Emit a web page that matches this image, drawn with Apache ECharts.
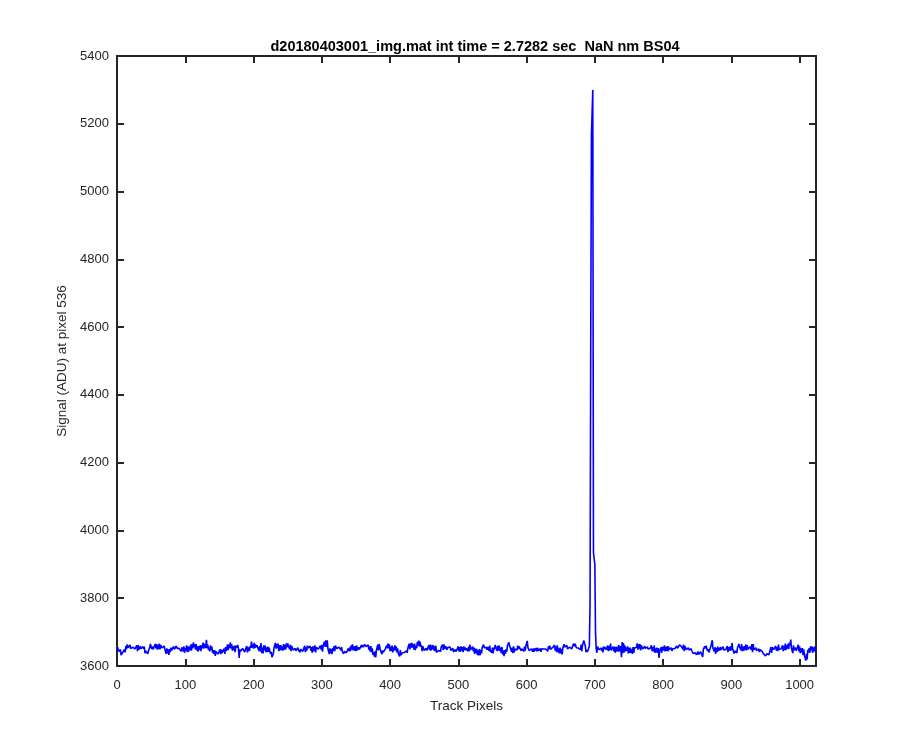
<!DOCTYPE html>
<html>
<head>
<meta charset="utf-8">
<script src="https://cdn.jsdelivr.net/npm/echarts@6/dist/echarts.min.js"></script>
<style>
html,body{margin:0;padding:0;background:#fff;}
#chart{width:900px;height:750px;}
</style>
</head>
<body>
<div id="chart"></div>
<script>
var titleText = 'd20180403001_img.mat int time = 2.7282 sec  NaN nm BS04';
var xLabel = 'Track Pixels';
var yLabel = 'Signal (ADU) at pixel 536';
var xTicks = [0, 100, 200, 300, 400, 500, 600, 700, 800, 900, 1000];
var yTicks = [3600, 3800, 4000, 4200, 4400, 4600, 4800, 5000, 5200, 5400];

// signal at track pixels 1..1024
var signal = [
3656,3643,3649,3642,3649,3632,3634,3632,3642,3637,3649,3640,3659,3650,3664,3654,3659,3656,3662,3651,3654,3651,3656,3654,3660,3650,3655,3649,3661,3644,3662,3648,
3651,3658,3651,3655,3652,3657,3651,3657,3638,3644,3643,3646,3636,3644,3639,3655,3665,3656,3650,3658,3649,3651,3650,3665,3652,3665,3648,3662,3650,3666,3649,3662,
3659,3653,3657,3649,3659,3651,3648,3636,3652,3637,3649,3633,3650,3641,3654,3646,3650,3649,3658,3649,3654,3654,3659,3652,3657,3648,3652,3647,3649,3643,3655,3651,
3643,3658,3639,3653,3646,3661,3641,3658,3642,3657,3647,3663,3645,3665,3652,3670,3656,3665,3648,3665,3646,3658,3642,3659,3648,3661,3644,3662,3652,3669,3651,3665,
3670,3653,3677,3653,3663,3647,3655,3643,3661,3647,3657,3639,3647,3636,3647,3630,3643,3639,3645,3635,3637,3635,3649,3635,3648,3639,3643,3638,3651,3636,3656,3644,
3648,3664,3647,3663,3653,3670,3652,3665,3645,3658,3647,3660,3641,3660,3654,3658,3662,3649,3624,3649,3643,3647,3643,3652,3649,3650,3641,3647,3645,3659,3640,3655,
3659,3644,3659,3653,3672,3654,3664,3651,3668,3653,3664,3655,3661,3659,3661,3644,3659,3643,3668,3638,3654,3637,3661,3646,3660,3641,3655,3641,3657,3642,3654,3642,
3636,3642,3626,3630,3636,3653,3651,3668,3651,3665,3653,3666,3644,3662,3646,3662,3647,3658,3645,3665,3648,3662,3648,3667,3655,3667,3659,3662,3650,3663,3644,3659,
3654,3647,3649,3643,3652,3645,3647,3645,3654,3647,3649,3640,3650,3649,3653,3643,3648,3645,3660,3641,3655,3645,3660,3653,3658,3656,3659,3645,3656,3639,3658,3643,
3645,3661,3640,3655,3655,3658,3650,3655,3646,3660,3648,3662,3642,3659,3656,3672,3656,3676,3656,3676,3651,3651,3635,3652,3638,3650,3635,3653,3644,3659,3644,3660,
3657,3651,3653,3647,3656,3651,3653,3647,3656,3643,3647,3636,3643,3641,3646,3639,3644,3642,3652,3643,3655,3644,3661,3648,3664,3646,3658,3645,3659,3644,3661,3647,
3649,3655,3649,3654,3656,3662,3655,3662,3656,3660,3664,3666,3657,3662,3658,3662,3648,3658,3642,3659,3640,3652,3633,3640,3628,3643,3625,3646,3645,3663,3646,3665,
3661,3646,3649,3635,3646,3640,3642,3640,3650,3646,3660,3652,3666,3652,3664,3644,3657,3644,3660,3640,3655,3646,3661,3646,3658,3640,3652,3638,3643,3628,3647,3632,
3634,3639,3634,3638,3640,3645,3639,3645,3639,3652,3652,3666,3649,3667,3654,3668,3654,3664,3648,3666,3647,3659,3653,3671,3660,3675,3658,3672,3656,3662,3644,3658,
3653,3646,3648,3642,3652,3646,3648,3646,3662,3647,3663,3645,3661,3649,3662,3646,3658,3644,3660,3640,3644,3641,3646,3643,3650,3643,3657,3652,3663,3647,3664,3651,
3652,3658,3648,3652,3655,3660,3650,3656,3646,3650,3648,3652,3641,3649,3643,3649,3643,3645,3640,3658,3643,3656,3642,3658,3645,3656,3641,3658,3647,3655,3646,3652,
3657,3644,3657,3643,3663,3648,3650,3647,3657,3643,3654,3636,3651,3639,3651,3632,3646,3631,3650,3632,3647,3637,3654,3649,3663,3654,3659,3653,3655,3648,3656,3652,
3645,3660,3641,3647,3639,3654,3637,3654,3648,3662,3664,3664,3644,3660,3645,3660,3644,3654,3638,3656,3634,3646,3629,3647,3636,3650,3642,3660,3657,3670,3661,3664,
3659,3642,3654,3638,3658,3640,3650,3646,3653,3647,3660,3650,3658,3660,3663,3645,3651,3647,3654,3643,3657,3645,3659,3654,3674,3654,3658,3645,3649,3643,3651,3647,
3642,3652,3642,3652,3646,3653,3643,3654,3644,3651,3645,3652,3642,3651,3648,3651,3650,3650,3647,3650,3646,3654,3644,3658,3650,3660,3649,3651,3653,3654,3655,3655,
3662,3645,3657,3641,3661,3641,3652,3637,3654,3637,3650,3634,3652,3651,3664,3656,3659,3655,3661,3650,3653,3651,3656,3651,3656,3650,3656,3653,3666,3658,3666,3668,
3654,3659,3650,3653,3652,3656,3648,3663,3644,3662,3661,3675,3666,3660,3641,3647,3641,3642,3639,3658,3785,4555,5165,5170,5300,3935,3940,3900,3700,3650,3639,3657,
3654,3648,3650,3644,3653,3645,3654,3640,3657,3652,3656,3649,3657,3647,3661,3644,3659,3647,3666,3646,3651,3651,3657,3643,3657,3639,3656,3643,3657,3642,3662,3649,
3643,3659,3626,3671,3638,3668,3640,3661,3643,3655,3645,3658,3637,3654,3639,3654,3639,3650,3636,3656,3639,3653,3648,3657,3655,3667,3648,3664,3651,3665,3646,3661,
3657,3650,3652,3647,3658,3652,3654,3649,3656,3650,3655,3646,3652,3650,3661,3644,3656,3643,3660,3639,3652,3640,3654,3639,3653,3624,3644,3643,3655,3639,3657,3653,
3646,3661,3643,3656,3645,3659,3643,3658,3648,3652,3651,3654,3644,3651,3646,3654,3651,3653,3649,3659,3652,3656,3653,3662,3660,3663,3657,3661,3649,3663,3644,3659,
3655,3648,3651,3645,3654,3647,3649,3644,3651,3645,3646,3637,3640,3640,3639,3634,3633,3633,3643,3634,3634,3635,3642,3640,3645,3627,3649,3645,3658,3652,3660,3656,
3644,3650,3640,3644,3643,3658,3653,3676,3653,3654,3643,3656,3636,3653,3641,3657,3644,3653,3646,3656,3648,3652,3648,3657,3647,3651,3642,3649,3645,3659,3641,3656,
3660,3645,3659,3646,3668,3651,3651,3637,3645,3639,3645,3638,3654,3653,3665,3656,3659,3647,3665,3644,3657,3645,3659,3647,3663,3646,3662,3649,3652,3647,3657,3655,
3648,3665,3641,3665,3648,3652,3650,3654,3645,3648,3648,3651,3641,3648,3643,3648,3643,3642,3636,3640,3635,3630,3629,3636,3636,3638,3633,3641,3641,3656,3639,3656,
3654,3648,3653,3648,3659,3645,3656,3644,3663,3649,3653,3645,3651,3649,3661,3644,3659,3647,3666,3647,3662,3651,3665,3650,3669,3660,3678,3653,3655,3638,3661,3647,
3649,3654,3645,3647,3647,3663,3643,3658,3638,3652,3640,3653,3632,3649,3632,3635,3616,3636,3619,3648,3640,3653,3639,3658,3646,3658,3639,3655,3643,3657,3642,3657
];

var pixels = signal.map(function (v, i) { return i + 1; });
var seriesData = signal.map(function (v, i) { return [pixels[i], v]; });

var FONT = '"Liberation Sans", Arial, Helvetica, sans-serif';
var AX = '#262626';

var chart = echarts.init(document.getElementById('chart'), null, {renderer: 'canvas'});

function plain(v) { return String(v); }

function xAx(pos, showLabels) {
  return {
    type: 'value', position: pos, min: 0, max: 1024, interval: 100,
    gridIndex: 0,
    name: showLabels ? xLabel : '',
    nameLocation: 'middle', nameGap: 33,
    nameTextStyle: {color: AX, fontSize: 13.5, fontFamily: FONT},
    axisLine: {show: true, onZero: false, lineStyle: {color: AX, width: 2}},
    axisTick: {show: true, inside: true, length: 7, lineStyle: {color: AX, width: 2},
      customValues: xTicks},
    axisLabel: {show: showLabels, color: AX, fontSize: 13, fontFamily: FONT, margin: 13,
      customValues: xTicks, formatter: plain},
    splitLine: {show: false}
  };
}
function yAx(pos, showLabels) {
  return {
    type: 'value', position: pos, min: 3600, max: 5400, interval: 200,
    gridIndex: 0,
    name: showLabels ? yLabel : '',
    nameLocation: 'middle', nameGap: 40, nameRotate: 90,
    nameTextStyle: {color: AX, fontSize: 13.5, fontFamily: FONT},
    axisLine: {show: true, onZero: false, lineStyle: {color: AX, width: 2}},
    axisTick: {show: true, inside: true, length: 7, lineStyle: {color: AX, width: 2},
      customValues: yTicks},
    axisLabel: {show: showLabels, color: AX, fontSize: 13, fontFamily: FONT, margin: 8,
      customValues: yTicks, formatter: plain},
    splitLine: {show: false}
  };
}

chart.setOption({
  animation: false,
  backgroundColor: '#ffffff',
  title: {
    text: titleText, left: 470, top: 34, textAlign: 'center',
    textStyle: {fontSize: 14.5, fontWeight: 'bold', color: '#000', fontFamily: FONT}
  },
  grid: {left: 117, right: 84, top: 56, bottom: 84, containLabel: false},
  xAxis: [xAx('bottom', true), xAx('top', false)],
  yAxis: [yAx('left', true), yAx('right', false)],
  series: [{
    type: 'line', xAxisIndex: 0, yAxisIndex: 0,
    data: seriesData,
    showSymbol: false, symbol: 'none', sampling: null,
    lineStyle: {color: '#0000ff', width: 1.6},
    clip: true
  }]
});
</script>
</body>
</html>
